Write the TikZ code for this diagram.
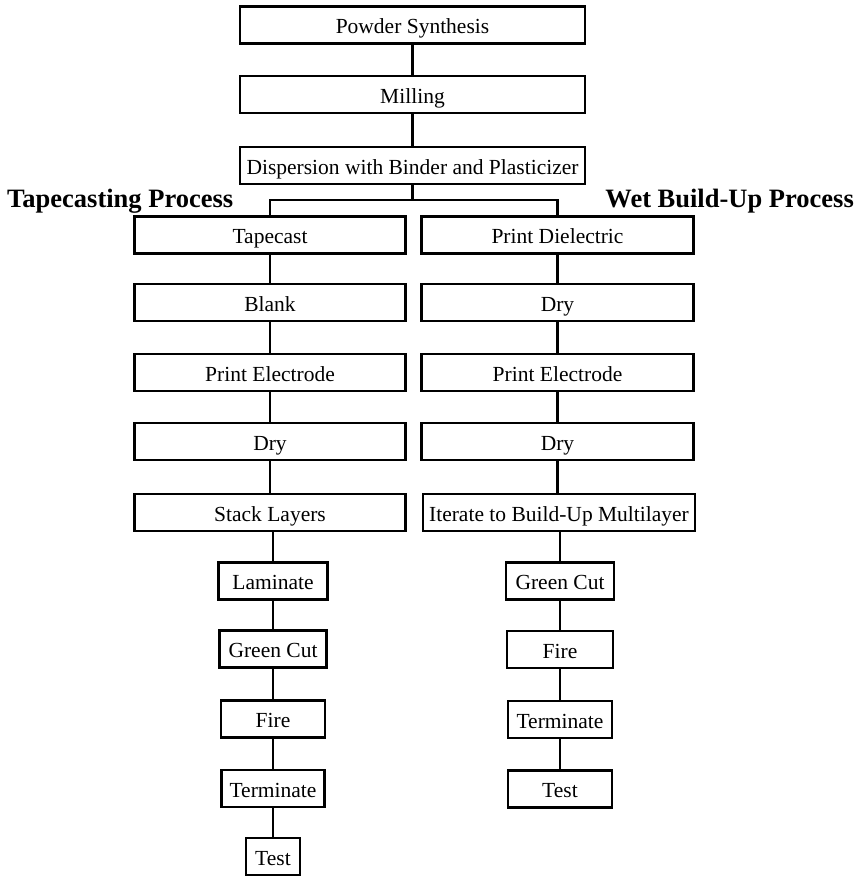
\documentclass[tikz,border=0pt]{standalone}
\usepackage{fontspec}
\setmainfont{Liberation Serif}
\begin{document}
\begin{tikzpicture}[x=1pt,y=1pt,
  box/.style={draw, line width=2.2pt, inner sep=0pt, minimum height=37pt,
    text height=17pt, text depth=0pt, font=\fontsize{21.5}{25}\selectfont},
  lbl/.style={inner sep=0pt, font=\fontsize{26.5}{30}\selectfont\bfseries},
  conn/.style={line width=2.2pt}]
\useasboundingbox (0,0) rectangle (857,-876);
% top
\node[box, minimum width=345] (ps) at (412.5,-25) {Powder Synthesis};
\node[box, minimum width=345] (mill) at (412.5,-94.5) {Milling};
\node[box, minimum width=345] (disp) at (412.5,-165.5) {Dispersion with Binder and Plasticizer};
% labels
\node[lbl, anchor=base west] (tlab) at (7,-207) {Tapecasting Process};
\node[lbl, anchor=base east] (wlab) at (854,-207) {Wet Build-Up Process};
% left column
\node[box, minimum width=271] (tape) at (270,-235) {Tapecast};
\node[box, minimum width=271] (blank) at (270,-302.5) {Blank};
\node[box, minimum width=271] (pel) at (270,-372.5) {Print Electrode};
\node[box, minimum width=271] (dryl) at (270,-441.5) {Dry};
\node[box, minimum width=271] (stack) at (270,-512.5) {Stack Layers};
\node[box, minimum width=109] (lam) at (273,-581) {Laminate};
\node[box, minimum width=107] (gcl) at (273,-649) {Green Cut};
\node[box, minimum width=104] (firel) at (273,-719) {Fire};
\node[box, minimum width=103] (terml) at (273,-788.5) {Terminate};
\node[box, minimum width=54] (testl) at (273,-856.5) {Test};
% right column
\node[box, minimum width=272] (pd) at (557.5,-235) {Print Dielectric};
\node[box, minimum width=272] (dryr1) at (557.5,-302.5) {Dry};
\node[box, minimum width=272] (per) at (557.5,-372.5) {Print Electrode};
\node[box, minimum width=272] (dryr2) at (557.5,-441.5) {Dry};
\node[box, minimum width=272] (iter) at (559,-512.5) {Iterate to Build-Up Multilayer};
\node[box, minimum width=108] (gcr) at (560,-581) {Green Cut};
\node[box, minimum width=106] (firer) at (560,-649.5) {Fire};
\node[box, minimum width=104] (termr) at (560,-719.5) {Terminate};
\node[box, minimum width=104] (testr) at (560,-789) {Test};
% connectors
\coordinate (br) at (412.5,-200);
\draw[conn] (ps) -- (mill);
\draw[conn] (mill) -- (disp);
\draw[conn] (disp) -- (br);
\draw[conn] (tape.north) |- (br) -| (pd.north);
\draw[conn] (tape) -- (blank);
\draw[conn] (blank) -- (pel);
\draw[conn] (pel) -- (dryl);
\draw[conn] (dryl) -- (stack);
\draw[conn] (stack.south -| lam.north) -- (lam.north);
\draw[conn] (lam) -- (gcl);
\draw[conn] (gcl) -- (firel);
\draw[conn] (firel) -- (terml);
\draw[conn] (terml) -- (testl);
\draw[conn] (pd) -- (dryr1);
\draw[conn] (dryr1) -- (per);
\draw[conn] (per) -- (dryr2);
\draw[conn] (dryr2.south) -- (dryr2.south |- iter.north);
\draw[conn] (iter.south -| gcr.north) -- (gcr.north);
\draw[conn] (gcr) -- (firer);
\draw[conn] (firer) -- (termr);
\draw[conn] (termr) -- (testr);
\end{tikzpicture}
\end{document}
